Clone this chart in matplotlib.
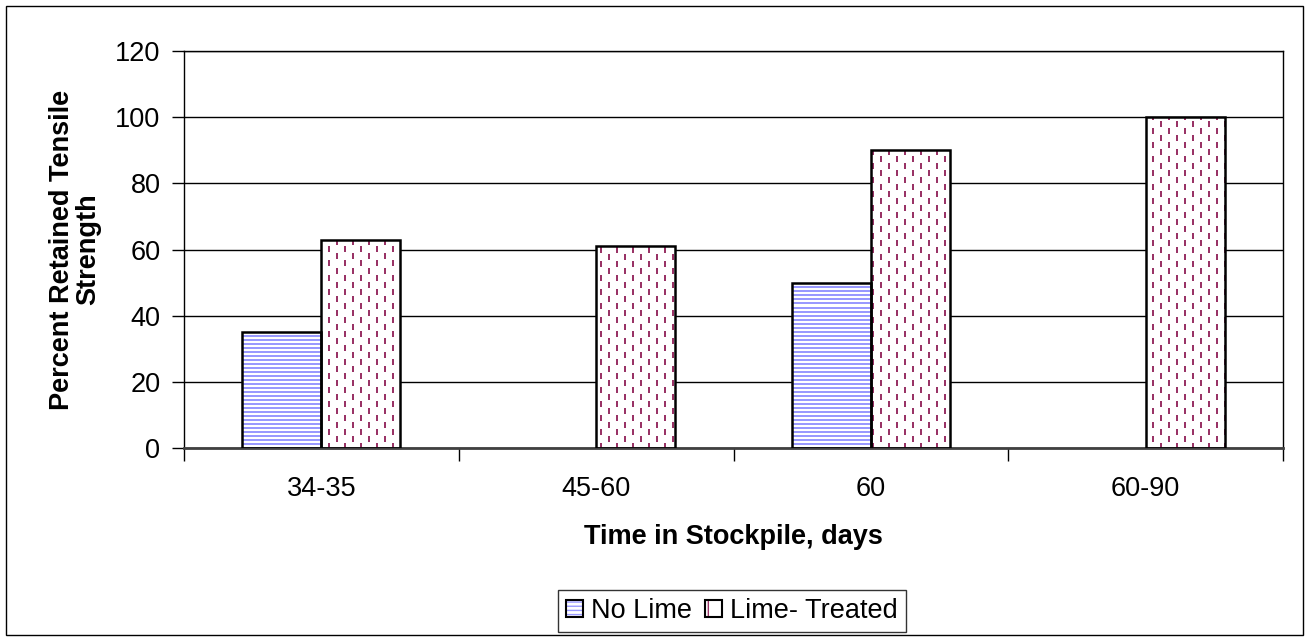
import numpy as np
import matplotlib
matplotlib.use('Agg')
from matplotlib import pyplot as plt
from matplotlib.patches import Patch, Rectangle
from matplotlib.legend_handler import HandlerTuple

plt.rcParams['font.family'] = ['Liberation Sans', 'DejaVu Sans']

categories = ['34-35', '45-60', '60', '60-90']
no_lime = [35, np.nan, 50, np.nan]
lime_treated = [63, 61, 90, 100]
series_names = ['No Lime', 'Lime- Treated']

blue = '#9999ff'
maroon = '#993366'

W, H = 1306, 640
fig = plt.figure(figsize=(W / 100, H / 100), dpi=100)
ax = fig.add_axes([184 / W, 1 - 448 / H, (1283 - 184) / W, (448 - 51) / H])

# pixel-sized fill patterns, clipped to each bar later
aw, ah = 1283 - 184, 448 - 51
stripes = np.ones((ah, aw, 3))
rows = np.arange(ah) % 4 < 2
stripes[rows] = matplotlib.colors.to_rgb(blue)

dashes = np.ones((ah, aw, 3))
yy, xx = np.mgrid[0:ah, 0:aw]
col = xx % 8
shift = ((xx // 8) % 2) * 7
mask = (col < 2) & (((yy + shift) % 14) < 6)
dashes[mask] = matplotlib.colors.to_rgb(maroon)

x = np.arange(len(categories))
w = 0.2875
ax.set_xlim(-0.5, len(categories) - 0.5)
ax.set_ylim(0, 120)

b1 = ax.bar(x - w / 2, no_lime, w, facecolor='none', edgecolor='black', lw=1.8, zorder=3)
b2 = ax.bar(x + w / 2, lime_treated, w, facecolor='none', edgecolor='black', lw=1.8, zorder=3)

for bars, pat in [(b1, stripes), (b2, dashes)]:
    for bar in bars:
        if np.isnan(bar.get_height()):
            continue
        im = ax.imshow(pat, extent=(-0.5, len(categories) - 0.5, 0, 120),
                       aspect='auto', interpolation='nearest', zorder=2)
        im.set_clip_path(bar)

ax.set_xlim(-0.5, len(categories) - 0.5)
ax.set_ylim(0, 120)
ax.set_yticks(range(0, 121, 20))
ax.yaxis.grid(True, color='black', lw=1)
ax.set_axisbelow(True)
ax.set_xticks(x)
ax.set_xticklabels(categories)
ax.tick_params(axis='x', length=0, labelsize=19.5, pad=20)
ax.set_xticks(np.arange(-0.5, len(categories)), minor=True)
ax.tick_params(axis='x', which='minor', length=9, width=1, direction='out')
ax.tick_params(axis='y', length=9, width=1, labelsize=19.5, pad=8)
for s in ax.spines.values():
    s.set_linewidth(1)
ax.spines['bottom'].set_color('#404040')
ax.spines['bottom'].set_linewidth(2)

ax.set_xlabel('Time in Stockpile, days', fontsize=19.5, fontweight='bold', labelpad=16)
ax.set_ylabel('Percent Retained Tensile\nStrength', fontsize=19.5, fontweight='bold', labelpad=10,
              linespacing=1.0)

h1 = (Patch(facecolor='white', edgecolor=blue, hatch='----', lw=0),
      Patch(facecolor='none', edgecolor='black', lw=1.5))
h2 = (Patch(facecolor='white', edgecolor=maroon, hatch='|', lw=0),
      Patch(facecolor='none', edgecolor='black', lw=1.5))
leg = fig.legend([h1, h2], series_names, loc='center', bbox_to_anchor=(732 / W, 1 - 611 / H),
                 ncol=2, fontsize=19.5, frameon=True, fancybox=False, handlelength=0.6,
                 handleheight=0.6, handletextpad=0.3, columnspacing=0.5, borderpad=0.3,
                 handler_map={tuple: HandlerTuple(ndivide=1, pad=0)})
leg.get_frame().set_edgecolor('black')
leg.get_frame().set_linewidth(1)

fig.patches.append(Rectangle((6 / W, 5 / H), 1297 / W, 629 / H, transform=fig.transFigure,
                             fill=False, edgecolor='black', lw=1))

fig.savefig('out.png', dpi=100)
